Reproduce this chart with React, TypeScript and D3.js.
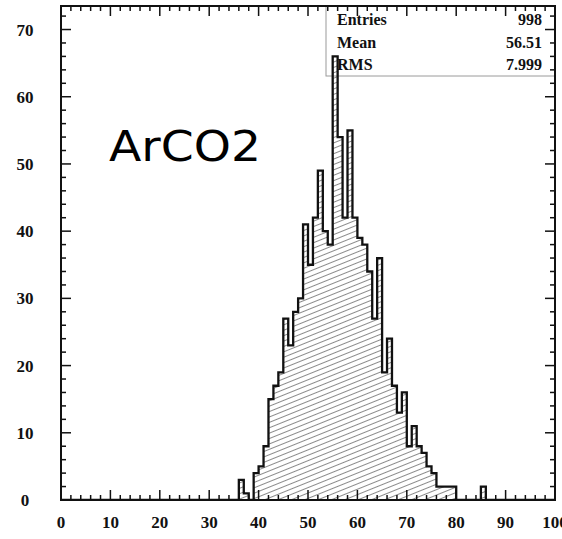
import React from "react";
import * as d3 from "d3";

// Histogram: 100 bins of width 1 from 0 to 100; counts below start at bin 36
const firstBin = 36;
const counts = [
  3, 1, 0, 4, 5, 8, 15, 17, 19, 27,
  23, 28, 30, 41, 35, 42, 49, 40, 38, 66,
  54, 42, 55, 42, 39, 38, 34, 27, 36, 19,
  24, 17, 13, 16, 8, 11, 8, 7, 5, 4,
  2, 2, 2, 2, 0, 0, 0, 0, 0, 2,
];
const xTicks = [0, 10, 20, 30, 40, 50, 60, 70, 80, 90, 100];
const yTicks = [0, 10, 20, 30, 40, 50, 60, 70];
const statLabels = ["Entries", "Mean", "RMS"];
const statValues = ["998", "56.51", "7.999"];
const title = "ArCO2";

const W = 562;
const H = 539;
const L = 61;
const R = 555;
const T = 6;
const B = 500;

export default function App() {
  const x = d3.scaleLinear().domain([0, 100]).range([L, R]);
  const y = d3.scaleLinear().domain([0, 73.5]).range([B, T]);

  const bins: { x0: number; v: number }[] = [];
  for (let i = 0; i < 100; i++) {
    const k = i - firstBin;
    const v = k >= 0 && k < counts.length ? counts[k] : 0;
    bins.push({ x0: i, v });
  }
  const pts: [number, number][] = bins.map((b) => [b.x0, b.v]);
  pts.push([100, bins[99].v]);

  const area = d3
    .area<[number, number]>()
    .x((d) => x(d[0]))
    .y0(y(0))
    .y1((d) => y(d[1]))
    .curve(d3.curveStepAfter);
  const line = d3
    .line<[number, number]>()
    .x((d) => x(d[0]))
    .y((d) => y(d[1]))
    .curve(d3.curveStepAfter);

  const xMinor = d3.range(0, 101, 2);
  const yMinor = d3.range(0, 74, 2);
  const font = "'Liberation Serif', 'Times New Roman', serif";

  return (
    <svg
      width={W}
      height={H}
      style={{ position: "absolute", left: 0, top: 0, background: "#fff" }}
    >
      <defs>
        <pattern
          id="hatch"
          patternUnits="userSpaceOnUse"
          width={12}
          height={5}
          patternTransform="rotate(-22)"
        >
          <line x1={0} y1={2.5} x2={12} y2={2.5} stroke="#8a8a8a" strokeWidth={1} />
        </pattern>
        <clipPath id="plotclip">
          <rect x={L} y={T} width={R - L} height={B - T} />
        </clipPath>
      </defs>

      {/* stats box */}
      <rect x={326} y={T} width={R - 326} height={76 - T} fill="none" stroke="#9a9a9a" strokeWidth={1} />
      {statLabels.map((s, i) => (
        <g key={s}>
          <text x={337} y={25 + i * 22.5} fontFamily={font} fontWeight="bold" fontSize={16} fill="#111">
            {s}
          </text>
          <text x={542} y={25 + i * 22.5} fontFamily={font} fontWeight="bold" fontSize={16} fill="#111" textAnchor="end">
            {statValues[i]}
          </text>
        </g>
      ))}

      <g clipPath="url(#plotclip)">
        <path d={area(pts) || ""} fill="url(#hatch)" />
        <path d={line(pts) || ""} fill="none" stroke="#111" strokeWidth={2.3} />
      </g>

      {/* title */}
      <text
        x={109}
        y={161}
        fontFamily="'DejaVu Sans', sans-serif"
        fontSize={42}
        textLength={152}
        lengthAdjust="spacingAndGlyphs"
        fill="#000"
      >
        {title}
      </text>

      {/* ticks */}
      {xMinor.map((t) => {
        const major = t % 10 === 0;
        const len = major ? 10 : 5;
        return (
          <g key={"xt" + t}>
            <line x1={x(t)} x2={x(t)} y1={B} y2={B - len} stroke="#111" strokeWidth={1.5} />
            <line x1={x(t)} x2={x(t)} y1={T} y2={T + len} stroke="#111" strokeWidth={1.5} />
          </g>
        );
      })}
      {yMinor.map((t) => {
        const major = t % 10 === 0;
        const len = major ? 10 : 5;
        return (
          <g key={"yt" + t}>
            <line x1={L} x2={L + len} y1={y(t)} y2={y(t)} stroke="#111" strokeWidth={1.5} />
            <line x1={R} x2={R - len} y1={y(t)} y2={y(t)} stroke="#111" strokeWidth={1.5} />
          </g>
        );
      })}

      {/* frame */}
      <rect x={L} y={T} width={R - L} height={B - T} fill="none" stroke="#111" strokeWidth={2} />

      {/* tick labels */}
      {xTicks.map((t) => (
        <text key={"xl" + t} x={x(t)} y={528} textAnchor="middle" fontFamily={font} fontWeight="bold" fontSize={17} fill="#111">
          {t}
        </text>
      ))}
      {yTicks.map((t) => (
        <text key={"yl" + t} x={25} y={y(t) + 6} textAnchor="middle" fontFamily={font} fontWeight="bold" fontSize={17} fill="#111">
          {t}
        </text>
      ))}
    </svg>
  );
}
